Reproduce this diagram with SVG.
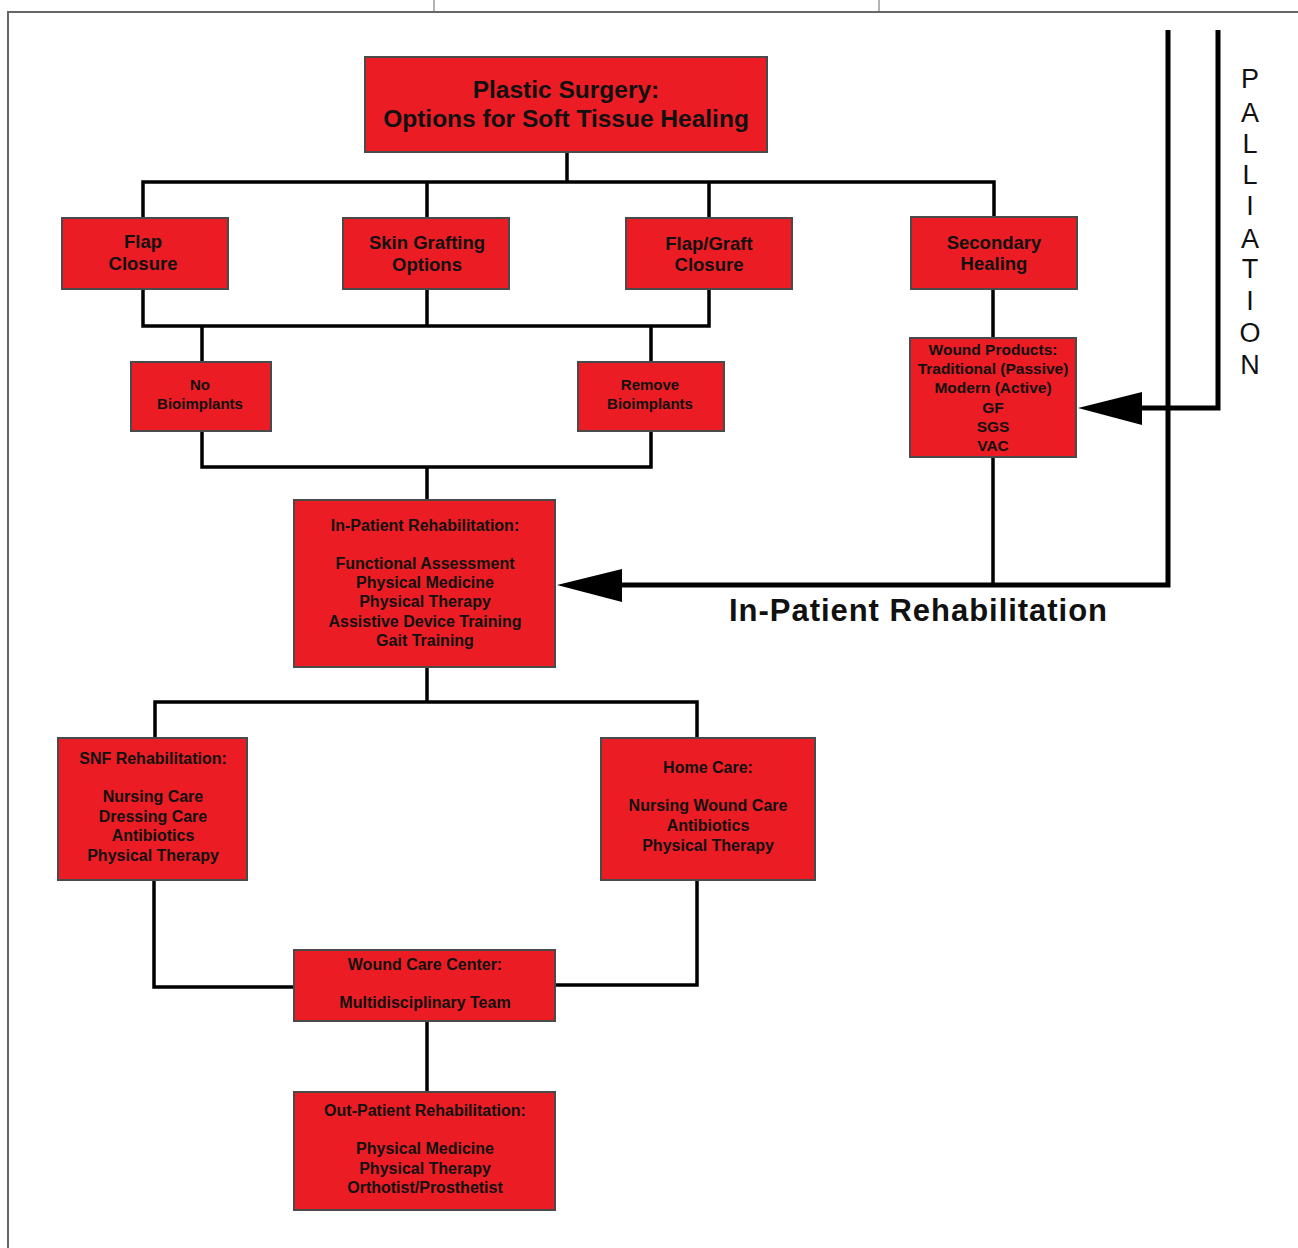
<svg xmlns="http://www.w3.org/2000/svg" width="1298" height="1248" viewBox="0 0 1298 1248">
<style>
.frame{stroke:#666;fill:none}
.box{fill:#EC1C24;stroke:#4a4a4a;stroke-width:2}
.c{stroke:#000;stroke-width:3.5;fill:none;stroke-linejoin:miter}
.thick{stroke:#000;stroke-width:5;fill:none}
.t{font-family:"Comic Sans MS","Liberation Sans",Arial,sans-serif;font-weight:bold;fill:#111;text-anchor:middle}
.t23{font-size:24.5px}
.t17{font-size:18.5px}
.t16{font-size:16px}
.t15{font-size:15px}
.t14{font-size:15.5px}
.big{font-size:31px}
.pal{font-size:27px;font-weight:normal}
</style>
<rect width="1298" height="1248" fill="#fff"/>
<g id="frame">
<path class="frame" stroke-width="2" d="M1298,12 H8 V1248"/>
<path class="frame" stroke-width="1" d="M434,0 V12 M879,0 V12"/>
</g>
<g id="connectors">
<path class="c" d="M567,152 V182 M143,218 V182 H994 V217 M427,182 V218 M709,182 V218"/>
<path class="c" d="M143,289 V326 H709 V289 M427,289 V326 M202,326 V362 M651,326 V362"/>
<path class="c" d="M202,431 V467 H651 V431 M427,467 V500"/>
<path class="c" d="M427,667 V702 M155,738 V702 H697 V738"/>
<path class="c" d="M154,880 V987 H294 M697,880 V985 H555"/>
<path class="c" d="M427,1021 V1092"/>
<path class="c" d="M993,289 V338 M993,457 V585"/>
<path class="thick" d="M1168,30 V585 H620"/>
<path class="thick" d="M1218,30 V408 H1140"/>
<polygon points="557,585 622,569 622,602" fill="#000"/>
<polygon points="1078,408 1142,392 1142,425" fill="#000"/>
</g>
<g id="title">
<rect class="box" x="365" y="57" width="402" height="95"/>
<text class="t t23" x="566" y="98">Plastic Surgery:</text>
<text class="t t23" x="566" y="127">Options for Soft Tissue Healing</text>
</g>
<g id="flap">
<rect class="box" x="62" y="218" width="166" height="71"/>
<text class="t t17" x="143" y="248">Flap</text>
<text class="t t17" x="143" y="270">Closure</text>
</g>
<g id="skin">
<rect class="box" x="343" y="218" width="166" height="71"/>
<text class="t t17" x="427" y="249">Skin Grafting</text>
<text class="t t17" x="427" y="271">Options</text>
</g>
<g id="flapgraft">
<rect class="box" x="626" y="218" width="166" height="71"/>
<text class="t t17" x="709" y="250">Flap/Graft</text>
<text class="t t17" x="709" y="271">Closure</text>
</g>
<g id="secondary">
<rect class="box" x="911" y="217" width="166" height="72"/>
<text class="t t17" x="994" y="249">Secondary</text>
<text class="t t17" x="994" y="270">Healing</text>
</g>
<g id="nobio">
<rect class="box" x="131" y="362" width="140" height="69"/>
<text class="t t15" x="200" y="390">No</text>
<text class="t t15" x="200" y="409">Bioimplants</text>
</g>
<g id="removebio">
<rect class="box" x="578" y="362" width="146" height="69"/>
<text class="t t15" x="650" y="390">Remove</text>
<text class="t t15" x="650" y="409">Bioimplants</text>
</g>
<g id="woundproducts">
<rect class="box" x="910" y="338" width="166" height="119"/>
<text class="t t14" x="993" y="355">Wound Products:</text>
<text class="t t14" x="993" y="374">Traditional (Passive)</text>
<text class="t t14" x="993" y="393">Modern (Active)</text>
<text class="t t14" x="993" y="413">GF</text>
<text class="t t14" x="993" y="432">SGS</text>
<text class="t t14" x="993" y="451">VAC</text>
</g>
<g id="inpatient">
<rect class="box" x="294" y="500" width="261" height="167"/>
<text class="t t16" x="425" y="531">In-Patient Rehabilitation:</text>
<text class="t t16" x="425" y="569">Functional Assessment</text>
<text class="t t16" x="425" y="588">Physical Medicine</text>
<text class="t t16" x="425" y="607">Physical Therapy</text>
<text class="t t16" x="425" y="627">Assistive Device Training</text>
<text class="t t16" x="425" y="646">Gait Training</text>
</g>
<g id="inpatient-label">
<text class="t big" x="918" y="621" textLength="378" lengthAdjust="spacing">In-Patient Rehabilitation</text>
</g>
<g id="palliation">
<text class="t pal" x="1250"><tspan x="1250" y="88">P</tspan><tspan x="1250" y="122">A</tspan><tspan x="1250" y="153">L</tspan><tspan x="1250" y="184">L</tspan><tspan x="1250" y="215">I</tspan><tspan x="1250" y="248">A</tspan><tspan x="1250" y="278">T</tspan><tspan x="1250" y="310">I</tspan><tspan x="1250" y="342">O</tspan><tspan x="1250" y="374">N</tspan></text>
</g>
<g id="snf">
<rect class="box" x="58" y="738" width="189" height="142"/>
<text class="t t16" x="153" y="764">SNF Rehabilitation:</text>
<text class="t t16" x="153" y="802">Nursing Care</text>
<text class="t t16" x="153" y="822">Dressing Care</text>
<text class="t t16" x="153" y="841">Antibiotics</text>
<text class="t t16" x="153" y="861">Physical Therapy</text>
</g>
<g id="homecare">
<rect class="box" x="601" y="738" width="214" height="142"/>
<text class="t t16" x="708" y="773">Home Care:</text>
<text class="t t16" x="708" y="811">Nursing Wound Care</text>
<text class="t t16" x="708" y="831">Antibiotics</text>
<text class="t t16" x="708" y="851">Physical Therapy</text>
</g>
<g id="woundcenter">
<rect class="box" x="294" y="950" width="261" height="71"/>
<text class="t t16" x="425" y="970">Wound Care Center:</text>
<text class="t t16" x="425" y="1008">Multidisciplinary Team</text>
</g>
<g id="outpatient">
<rect class="box" x="294" y="1092" width="261" height="118"/>
<text class="t t16" x="425" y="1116">Out-Patient Rehabilitation:</text>
<text class="t t16" x="425" y="1154">Physical Medicine</text>
<text class="t t16" x="425" y="1174">Physical Therapy</text>
<text class="t t16" x="425" y="1193">Orthotist/Prosthetist</text>
</g>
</svg>
